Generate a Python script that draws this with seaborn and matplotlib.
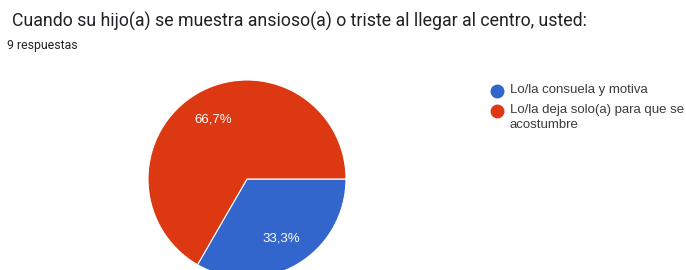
import matplotlib
matplotlib.use("Agg")
import matplotlib.pyplot as plt
from matplotlib.lines import Line2D
import seaborn as sns

# Survey data
categories = ["Lo/la consuela y motiva", "Lo/la deja solo(a) para que se\nacostumbre"]
counts = [3, 6]
colors = ["#3366cc", "#dc3912"]

title = "Cuando su hijo(a) se muestra ansioso(a) o triste al llegar al centro, usted:"
subtitle = "9 respuestas"

sns.set_theme(style="white")
plt.rcParams["font.family"] = ["Liberation Sans", "DejaVu Sans"]

W, H = 686, 270
fig = plt.figure(figsize=(W / 100, H / 100), dpi=100)
fig.patch.set_facecolor("white")

# pie axes placed in pixel terms (pie is cut by the bottom edge)
ax = fig.add_axes([148 / W, (H - 278) / H, 198 / W, 198 / H])
wedges, texts, autotexts = ax.pie(
    counts,
    colors=colors,
    startangle=0,
    counterclock=False,
    autopct=lambda p: f"{p:.1f}%".replace(".", ","),
    pctdistance=0.69,
    wedgeprops={"edgecolor": "white", "linewidth": 0.8},
    textprops={"color": "white", "fontsize": 9.5},
)
ax.set_xlim(-1, 1)
ax.set_ylim(-1, 1)
ax.set_aspect("equal")
ax.axis("off")

fig.text(12 / W, 1 - 21 / H, title, fontsize=12.8, family="Roboto",
         color="#202124", va="center", ha="left")
fig.text(7 / W, 1 - 45 / H, subtitle, fontsize=8.8, family="Roboto",
         color="#202124", va="center", ha="left")

# legend drawn by hand so the marker sits on the first line of a wrapped label
legend_y = [91, 111]
for label, c, y in zip(categories, colors, legend_y):
    fig.add_artist(Line2D([497 / W], [1 - y / H], marker="o", linestyle="",
                          markersize=9, markerfacecolor=c, markeredgecolor=c,
                          transform=fig.transFigure))
    fig.text(510 / W, 1 - (y - 7.5) / H, label, fontsize=9.5, color="#3c3c3c",
             va="top", ha="left", linespacing=1.38)

fig.savefig("out.png", dpi=100)
